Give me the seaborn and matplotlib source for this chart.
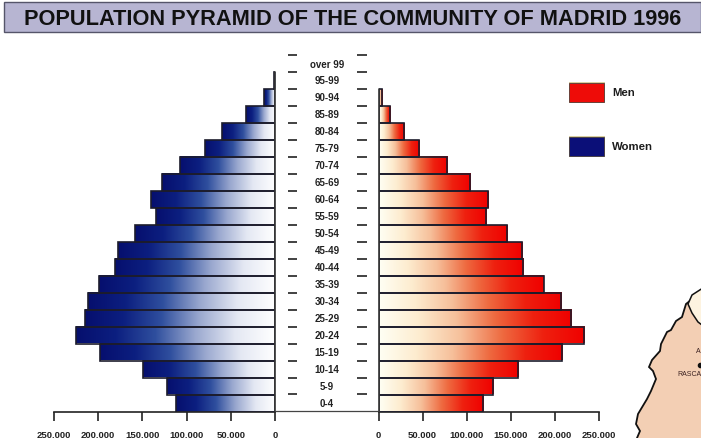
import numpy as np
import pandas as pd
import seaborn as sns
import matplotlib.pyplot as plt
from matplotlib.colors import LinearSegmentedColormap
from matplotlib.patches import Polygon, Rectangle

# values, youngest group first
ages = ['0-4', '5-9', '10-14', '15-19', '20-24', '25-29', '30-34', '35-39', '40-44', '45-49', '50-54',
        '55-59', '60-64', '65-69', '70-74', '75-79', '80-84', '85-89', '90-94', '95-99', 'over 99']
women = [112000, 122500, 149000, 198000, 225000, 215000, 211000, 199500, 181000, 177500, 158000,
         134500, 140500, 128000, 107500, 79000, 59500, 33000, 12500, 1500, 0]
men = [119000, 130500, 158000, 208500, 234000, 219000, 207000, 187500, 164500, 163500, 146000,
       122000, 124000, 104000, 78000, 46500, 29000, 13500, 4500, 0, 0]
ticks = [0, 50000, 100000, 150000, 200000, 250000]
tick_labels = ['0', '50.000', '100.000', '150.000', '200.000', '250.000']
title = 'POPULATION PYRAMID OF THE COMMUNITY OF MADRID 1996'

# bit of the neighbouring map, cropped at the page edge
map_x = [706, 691, 686, 682, 676, 671, 667, 661, 660, 652, 649, 653, 656, 651, 647, 638, 636, 640, 637, 637, 706]
map_y = [293, 301, 305, 318, 322, 331, 333, 345, 352, 361, 368, 372, 380, 392, 400, 415, 425, 432, 439, 445, 445]
hill_x = [706, 692, 688, 692, 698, 706]
hill_y = [287, 296, 305, 314, 323, 329]

W, H = 701, 439
BAR_H = 17
BOTTOM = 412.5
sns.set_theme(style='white')
plt.rcParams['font.family'] = ['Liberation Sans', 'DejaVu Sans']

df = pd.DataFrame({'age': ages, 'Women': women, 'Men': men})
order = ages[::-1]


def px_axes(fig, x0, x1):
    top = BOTTOM - BAR_H * len(ages)
    return fig.add_axes([x0 / W, 1 - BOTTOM / H, (x1 - x0) / W, (BOTTOM - top) / H])


def pyramid_side(ax, col, cmap):
    sns.barplot(data=df, y='age', x=col, order=order, ax=ax, width=1.0, color='white',
                edgecolor='#1c1c2c', linewidth=1.2, zorder=3)
    ylim = ax.get_ylim()
    # each bar fades from white at zero to full colour at its end
    for bar in ax.patches:
        if bar.get_width() <= 0:
            bar.set_visible(False)
            continue
        bar.set_facecolor('none')
        x0 = bar.get_x()
        y0 = bar.get_y()
        ax.imshow(np.linspace(0, 1, 256)[None, :], extent=[x0, x0 + bar.get_width(), y0, y0 + bar.get_height()],
                  cmap=cmap, vmin=0, vmax=1, aspect='auto', zorder=2, interpolation='bilinear')
    ax.set_ylim(ylim)
    ax.set_xlabel('')
    ax.set_ylabel('')
    ax.set_yticks([])
    ax.patch.set_alpha(0)
    for s in ['top', 'left', 'right']:
        ax.spines[s].set_visible(False)
    ax.spines['bottom'].set_linewidth(1.2)
    ax.spines['bottom'].set_color('#222222')
    ax.set_xlim(0, 250000)
    ax.set_xticks(ticks, tick_labels, fontsize=6.8, fontweight='bold', color='#222222')
    ax.tick_params(axis='x', bottom=True, length=6.5, width=1.2, color='#222222', pad=6.5)


blue = LinearSegmentedColormap.from_list('w', ['#ffffff', '#e4e8f3', '#9aa8cf', '#2f4f9e', '#0c1f80', '#060f6e'])
red = LinearSegmentedColormap.from_list('m', ['#fffff4', '#fdeccf', '#f6bf9a', '#ee6a40', '#ee200f', '#f00000'])

fig = plt.figure(figsize=(W / 100, H / 100), dpi=100, facecolor='white')

ax_w = px_axes(fig, 54, 275)
pyramid_side(ax_w, 'Women', blue)
ax_w.invert_xaxis()

ax_m = px_axes(fig, 378.5, 598.5)
pyramid_side(ax_m, 'Men', red)

# overlay in pixel coordinates for the title band, age column, legend and map
bg = fig.add_axes([0, 0, 1, 1], zorder=5)
bg.set_xlim(0, W)
bg.set_ylim(H, 0)
bg.axis('off')

bg.add_patch(Rectangle((4, 3), 697, 30, facecolor='#b7b5d2', edgecolor='#55556a', lw=1))
bg.text(353, 19.5, title, ha='center', va='center', fontsize=15.7, fontweight='bold', color='#111111')

# zero lines and the line joining the two axes under the age column
bg.plot([275, 378.5], [BOTTOM, BOTTOM], color='#444444', lw=0.9)
bg.plot([275, 275], [72.5, BOTTOM], color='#333333', lw=1.2)
bg.plot([378.5, 378.5], [90, BOTTOM], color='#333333', lw=1.2)

for i, a in enumerate(ages):
    bg.text(327, BOTTOM - BAR_H * (i + 0.5) + 0.5, a, ha='center', va='center', fontsize=7, fontweight='bold',
            color='#222222')
    yb = BOTTOM - BAR_H * (i + 1)
    bg.plot([288, 297], [yb, yb], color='#333333', lw=1.3, solid_capstyle='butt')
    bg.plot([357, 366.5], [yb, yb], color='#333333', lw=1.3, solid_capstyle='butt')

for y, c, lab in [(84, '#ee0c08', 'Men'), (138, '#0b0f78', 'Women')]:
    bg.add_patch(Rectangle((568.5, y - 1), 36, 21, facecolor='#d9cfa0', edgecolor='none'))
    bg.add_patch(Rectangle((569, y), 35, 19, facecolor=c, edgecolor='#3a3030', lw=0.5))
    bg.text(612, y + 9.5, lab, ha='left', va='center', fontsize=8.2, fontweight='bold', color='#1c1c1c')

bg.add_patch(Polygon(list(zip(map_x, map_y)), closed=True, facecolor='#f3cfb4', edgecolor='#111111', lw=1.3))
bg.add_patch(Polygon(list(zip(hill_x, hill_y)), closed=True, facecolor='#fdf3e0', edgecolor='#111111', lw=1.1))
bg.set_xlim(0, W)
bg.set_ylim(H, 0)
bg.plot([699.5], [366], 'o', color='#111111', ms=3)
bg.text(677, 375, 'RASCA', ha='left', va='center', fontsize=5, color='#3a2020')
bg.text(696, 352, 'A', ha='left', va='center', fontsize=5, color='#3a2020')

fig.savefig('out.png', dpi=100)
